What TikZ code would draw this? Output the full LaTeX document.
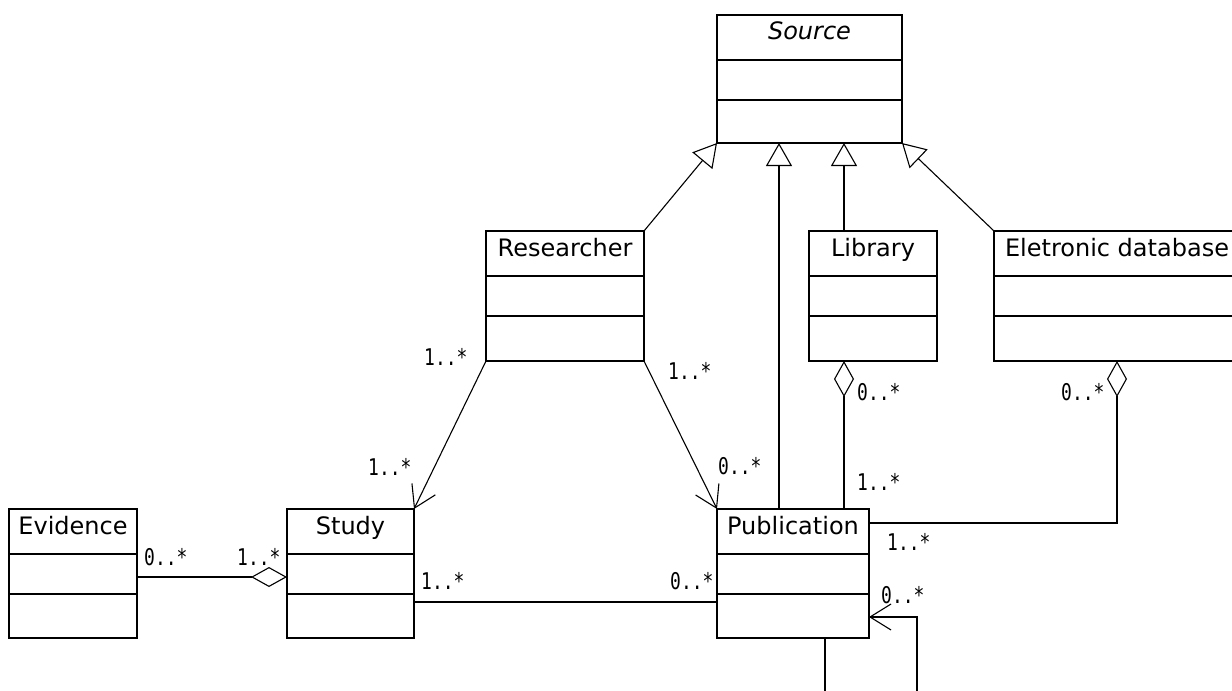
\documentclass[tikz,border=0pt]{standalone}
\usepackage{fontspec}
\setmainfont{DejaVu Sans}
\newfontfamily\multfont[FakeStretch=0.78]{DejaVu Sans Mono}
\usetikzlibrary{arrows.meta}

% A UML class box: name, x, y (top left), width, height, class name
\newcommand{\umlclass}[6]{%
  \node[classbox, minimum width=#4bp, minimum height=#5bp] (#1) at (#2,#3) {};
  \draw[divider] ([yshift=-45bp]#1.north west) -- ([yshift=-45bp]#1.north east);
  \draw[divider] ([yshift=-85bp]#1.north west) -- ([yshift=-85bp]#1.north east);
  \node[classname] (#1-name) at ([yshift=-25bp]#1.north) {#6};
}

\begin{document}
\begin{tikzpicture}[x=1bp,y=-1bp,
  classbox/.style={draw, line width=1.6bp, inner sep=0, outer sep=0, anchor=north west},
  divider/.style={line width=1.6bp},
  classname/.style={inner sep=0, anchor=base, font=\fontsize{24bp}{28bp}\selectfont},
  link/.style={line width=1.1bp},
  gen/.style={link, -{Triangle[open,length=23bp,width=26bp,line width=1.1bp]}},
  agg/.style={link, {Diamond[open,length=36bp,width=20bp,line width=1.1bp]}-},
  aggend/.style={link, -{Diamond[open,length=36bp,width=20bp,line width=1.1bp]}},
  barb/.style={link, -{Straight Barb[length=21bp,width=26bp,line width=1.1bp]}},
  mult/.style={inner sep=0, anchor=base west, font=\multfont\fontsize{23bp}{26bp}\selectfont}
]
\useasboundingbox (0,0) rectangle (1232,691);
\clip (0,0) rectangle (1232,691);

% classes
\umlclass{src}{717}{15}{185}{128}{\itshape Source}
\umlclass{res}{486}{231}{158}{130}{Researcher}
\umlclass{lib}{809}{231}{128}{130}{Library}
\umlclass{edb}{994}{231}{246}{130}{Eletronic database}
\umlclass{evi}{9}{509}{128}{129}{Evidence}
\umlclass{stu}{287}{509}{127}{129}{Study}
\umlclass{pub}{717}{509}{152}{129}{Publication}

% generalizations
\draw[gen] (res.north east) -- (src.south west);
\draw[gen] (edb.north west) -- (src.south east);
\coordinate (pubG) at ([xshift=62bp]pub.north west);
\draw[gen] (pubG) -- (pubG |- src.south);
\coordinate (libG) at ([xshift=35bp]lib.north west);
\draw[gen] (libG) -- (libG |- src.south);

% aggregations
\coordinate (libA) at ([xshift=35bp]lib.south west);
\draw[agg] (libA) -- (libA |- pub.north);
\coordinate (edbA) at ([xshift=123bp]edb.south west);
\coordinate (pubE) at ([yshift=-14bp]pub.north east);
\draw[agg] (edbA) |- (pubE);
\coordinate (eviR) at ([yshift=-68bp]evi.north east);
\draw[aggend] (eviR) -- (eviR -| stu.west);

% associations
\coordinate (stuR) at ([yshift=-93bp]stu.north east);
\draw[link] (stuR) -- (stuR -| pub.west);
\draw[barb] (res.south west) -- (stu.north east);
\draw[barb] (res.south east) -- (pub.north west);
\coordinate (pubS) at ([yshift=-108bp]pub.north east);
\coordinate (loopEnd) at (917,700);
\draw[barb] (loopEnd) |- (pubS);
\coordinate (pubB) at ([xshift=108bp]pub.south west);
\draw[link] (pubB) -- (pubB |- loopEnd);

% multiplicities
\node[mult] (m1) at (144,565) {0..*};
\node[mult] (m2) at (237,565) {1..*};
\node[mult] (m3) at (421,589) {1..*};
\node[mult] (m4) at (670,589) {0..*};
\node[mult] (m5) at (424,365) {1..*};
\node[mult] (m6) at (368,475) {1..*};
\node[mult] (m7) at (668,379) {1..*};
\node[mult] (m8) at (718,474) {0..*};
\node[mult] (m9) at (857,400) {0..*};
\node[mult] (m10) at (857,490) {1..*};
\node[mult] (m11) at (1061,400) {0..*};
\node[mult] (m12) at (887,550) {1..*};
\node[mult] (m13) at (881,603) {0..*};
\end{tikzpicture}
\end{document}
